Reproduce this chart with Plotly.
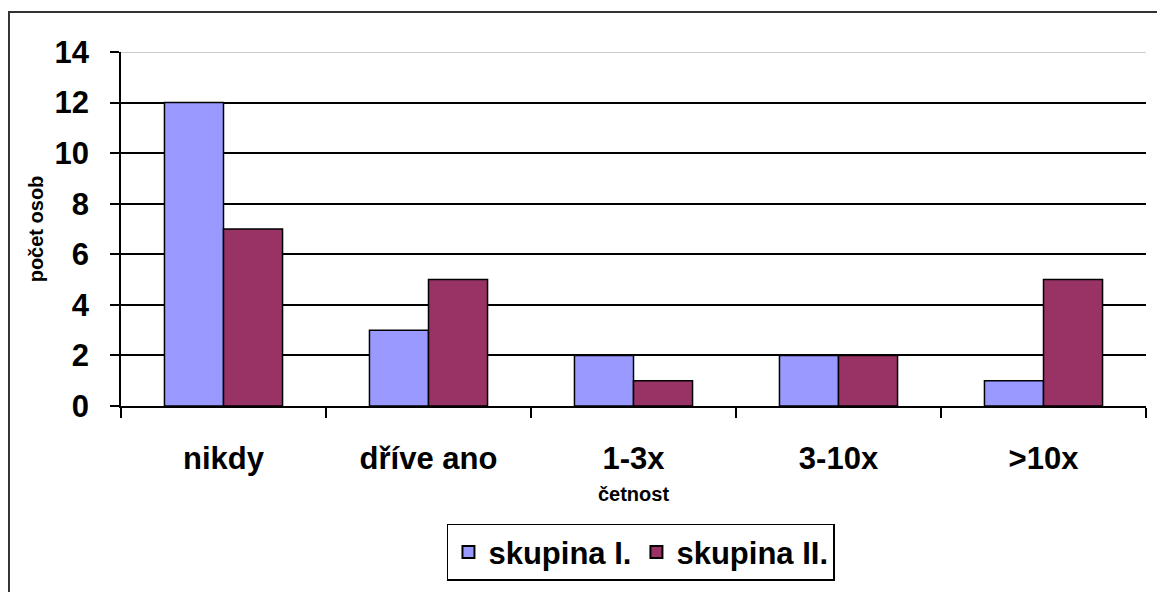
import plotly.graph_objects as go

categories = ["nikdy", "dříve ano", "1-3x", "3-10x", ">10x"]
skupina_1 = [12, 3, 2, 2, 1]
skupina_2 = [7, 5, 1, 2, 5]
series_names = ["skupina I.", "skupina II."]
y_ticks = [0, 2, 4, 6, 8, 10, 12, 14]

FONT = "Liberation Sans, Arial, sans-serif"

fig = go.Figure()
fig.add_trace(go.Bar(x=categories, y=skupina_1, name=series_names[0],
                     marker=dict(color="#9999FF", line=dict(color="black", width=1.5))))
fig.add_trace(go.Bar(x=categories, y=skupina_2, name=series_names[1],
                     marker=dict(color="#993366", line=dict(color="black", width=1.5))))

fig.update_layout(
    width=1165, height=592,
    margin=dict(l=113, r=27, t=44, b=194),
    paper_bgcolor="white", plot_bgcolor="white",
    font=dict(family=FONT, color="black"),
    barmode="group", bargap=0.424, bargroupgap=0,
    showlegend=True,
    legend=dict(orientation="h", x=0.318, y=-0.333, xanchor="left", yanchor="top",
                bordercolor="black", borderwidth=1.5, bgcolor="white",
                font=dict(size=31, family=FONT, weight="bold"),
                itemsizing="constant", itemwidth=30, tracegroupgap=0),
    shapes=[
        dict(type="rect", xref="paper", yref="paper", x0=-0.1093, x1=1.2, y0=-0.7, y1=1.113,
             line=dict(color="#333333", width=2), fillcolor="rgba(0,0,0,0)", layer="below"),
        dict(type="line", xref="paper", yref="y", x0=0, x1=1, y0=14, y1=14,
             line=dict(color="#bbbbbb", width=1.5), layer="above"),
    ],
)

fig.update_xaxes(
    showline=True, linecolor="black", linewidth=1.5,
    ticks="outside", tickson="boundaries", ticklen=10, tickwidth=1.5, tickcolor="black",
    tickfont=dict(size=31, family=FONT, weight="bold"),
    ticklabelstandoff=24,
    title=dict(text="četnost", font=dict(size=20, family=FONT, weight="bold"), standoff=12),
    showgrid=False,
)
fig.update_yaxes(
    range=[0, 14], tickvals=y_ticks,
    showline=True, linecolor="black", linewidth=1.5,
    ticks="outside", ticklen=9, tickwidth=1.5, tickcolor="black",
    tickfont=dict(size=31, family=FONT, weight="bold"),
    ticklabelstandoff=15,
    showgrid=True, gridcolor="black", gridwidth=1.5,
    zeroline=False,
    title=dict(text="počet osob", font=dict(size=20, family=FONT, weight="bold"), standoff=6),
)

fig.write_html("out.html")
